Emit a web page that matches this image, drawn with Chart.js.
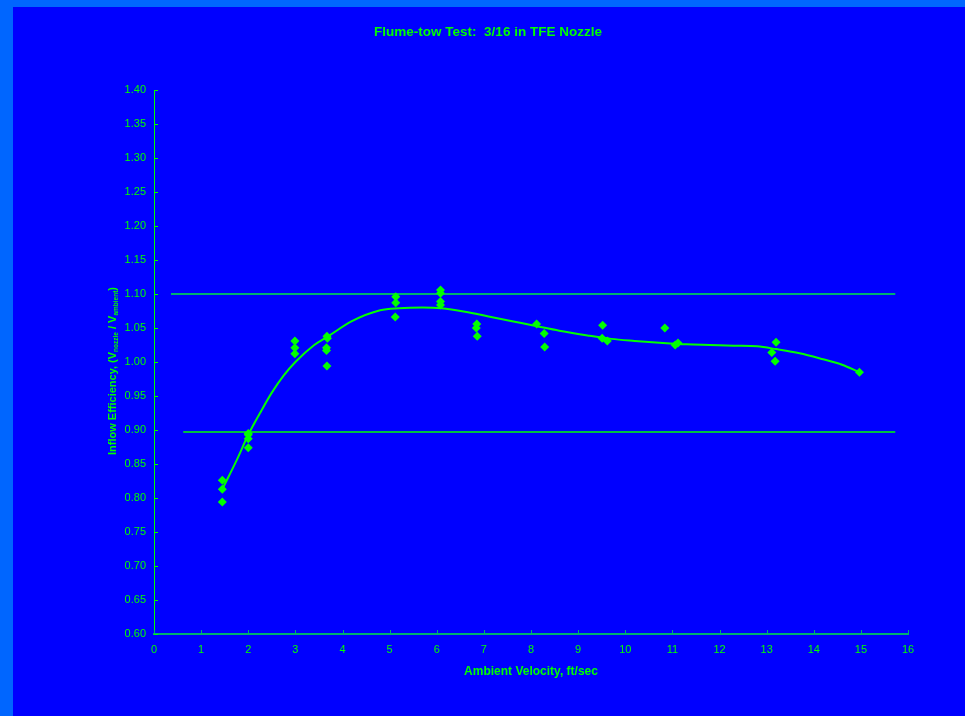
<!DOCTYPE html>
<html>
<head>
<meta charset="utf-8">
<script src="https://cdn.jsdelivr.net/npm/chart.js@4.4.1/dist/chart.umd.min.js"></script>
<style>
  html, body { margin: 0; padding: 0; background: #0066FF; overflow: hidden; }
  #wrap { position: absolute; left: 13px; top: 7px; width: 952px; height: 709px; background: #0000FF; }
  canvas { display: block; }
</style>
</head>
<body>
<div id="wrap"><canvas id="c" width="952" height="709"></canvas></div>
<script>
// Measured inflow efficiency at each tow speed (ft/sec)
const velocity = [
  1.45, 1.45, 1.45,
  2.00, 2.00, 2.00, 2.00,
  2.99, 2.99, 2.99,
  3.67, 3.68, 3.66, 3.66, 3.67,
  5.13, 5.13, 5.12,
  6.08, 6.08, 6.08, 6.08,
  6.85, 6.84, 6.86,
  8.12,
  8.28, 8.29,
  9.52, 9.51,
  9.62,
  10.84,
  11.06, 11.12,
  13.20, 13.11, 13.18,
  14.97
];
const efficiency = [
  0.826, 0.813, 0.794,
  0.895, 0.893, 0.887, 0.874,
  1.031, 1.021, 1.012,
  1.038, 1.035, 1.021, 1.017, 0.994,
  1.096, 1.087, 1.066,
  1.106, 1.101, 1.089, 1.084,
  1.056, 1.050, 1.038,
  1.056,
  1.042, 1.022,
  1.054, 1.035,
  1.031,
  1.050,
  1.025, 1.028,
  1.029, 1.014, 1.001,
  0.985
];

// Trend curve through the data
const trendVelocity = [1.45, 1.75, 2.0, 2.25, 2.5, 2.75, 3.0, 3.4, 3.7, 4.2, 4.8, 5.2, 5.7, 6.1, 6.6, 7.1, 7.6, 8.1, 8.6, 9.2, 9.7, 10.2, 10.8, 11.3, 11.8, 12.3, 12.8, 13.2, 13.7, 14.2, 14.6, 14.97];
const trendEfficiency = [0.813, 0.855, 0.893, 0.925, 0.955, 0.980, 1.000, 1.025, 1.038, 1.060, 1.076, 1.079, 1.080, 1.079, 1.074, 1.067, 1.060, 1.053, 1.046, 1.039, 1.034, 1.031, 1.028, 1.026, 1.025, 1.024, 1.023, 1.019, 1.013, 1.004, 0.996, 0.985];

// Acceptance band limits
const upperLimit = 1.10;
const lowerLimit = 0.897;
const upperLimitSpan = [0.36, 15.73];
const lowerLimitSpan = [0.62, 15.73];

// Axis tick values
const xTicks = [0, 1, 2, 3, 4, 5, 6, 7, 8, 9, 10, 11, 12, 13, 14, 15, 16];
const yTicks = [0.60, 0.65, 0.70, 0.75, 0.80, 0.85, 0.90, 0.95, 1.00, 1.05, 1.10, 1.15, 1.20, 1.25, 1.30, 1.35, 1.40];

const GREEN = '#00FF00';
const FONT = '"Liberation Sans", Arial, sans-serif';

const points = velocity.map((v, i) => ({ x: v, y: efficiency[i] }));
const trend = trendVelocity.map((v, i) => ({ x: v, y: trendEfficiency[i] }));
const upper = upperLimitSpan.map(v => ({ x: v, y: upperLimit }));
const lower = lowerLimitSpan.map(v => ({ x: v, y: lowerLimit }));

// Titles and inward tick marks
const decor = {
  id: 'decor',
  afterDraw(chart) {
    const ctx = chart.ctx;
    const area = chart.chartArea;
    const xs = chart.scales.x, ys = chart.scales.y;
    ctx.save();
    ctx.strokeStyle = GREEN;
    ctx.lineWidth = 1;
    yTicks.forEach(t => {
      const py = Math.round(ys.getPixelForValue(t)) + 0.5;
      ctx.beginPath();
      ctx.moveTo(area.left, py);
      ctx.lineTo(area.left + 4, py);
      ctx.stroke();
    });
    ctx.strokeStyle = '#00B070';
    xTicks.forEach(t => {
      const px = Math.round(xs.getPixelForValue(t)) + 0.5;
      ctx.beginPath();
      ctx.moveTo(px, area.bottom);
      ctx.lineTo(px, area.bottom - 4);
      ctx.stroke();
    });

    ctx.fillStyle = GREEN;
    ctx.textBaseline = 'middle';
    ctx.textAlign = 'center';
    ctx.font = 'bold 13.5px ' + FONT;
    ctx.fillText('Flume-tow Test:  3/16 in TFE Nozzle', 475, 25);
    ctx.font = 'bold 12px ' + FONT;
    ctx.fillText('Ambient Velocity, ft/sec', (area.left + area.right) / 2, 665);

    // vertical title with subscripts
    const parts = [
      { t: 'Inflow Efficiency, (V', sub: false },
      { t: 'nozzle', sub: true },
      { t: ' / V', sub: false },
      { t: 'ambient', sub: true },
      { t: ')', sub: false }
    ];
    const mainFont = 'bold 11px ' + FONT;
    const subFont = 'bold 6.5px ' + FONT;
    let total = 0;
    parts.forEach(p => { ctx.font = p.sub ? subFont : mainFont; p.w = ctx.measureText(p.t).width; total += p.w; });
    ctx.translate(98, 371 - 7);
    ctx.rotate(-Math.PI / 2);
    ctx.textAlign = 'left';
    ctx.textBaseline = 'alphabetic';
    let cx = -total / 2;
    parts.forEach(p => {
      ctx.font = p.sub ? subFont : mainFont;
      ctx.fillText(p.t, cx, p.sub ? 6.5 : 4.5);
      cx += p.w;
    });
    ctx.restore();
  }
};

new Chart(document.getElementById('c'), {
  type: 'scatter',
  data: {
    datasets: [
      { data: upper, showLine: true, borderColor: '#00B070', borderWidth: 2, pointRadius: 0, order: 3 },
      { data: lower, showLine: true, borderColor: GREEN, borderWidth: 1.5, pointRadius: 0, order: 3 },
      { data: trend, showLine: true, borderColor: GREEN, borderWidth: 2, pointRadius: 0, tension: 0.4, cubicInterpolationMode: 'monotone', order: 2 },
      { data: points, showLine: false, pointStyle: 'rectRot', pointRadius: 4.5, backgroundColor: GREEN, borderColor: GREEN, borderWidth: 0, order: 1 }
    ]
  },
  options: {
    responsive: false,
    animation: false,
    devicePixelRatio: 1,
    layout: { padding: { left: 0, right: 57, top: 83, bottom: 0 } },
    plugins: { legend: { display: false }, tooltip: { enabled: false }, title: { display: false } },
    scales: {
      x: {
        type: 'linear', min: 0, max: 16,
        afterFit(s) { s.height = 82; },
        afterBuildTicks(s) { s.ticks = xTicks.map(v => ({ value: v })); },
        grid: { display: false, drawTicks: false },
        border: { display: true, color: '#00B070', width: 2 },
        ticks: { color: GREEN, padding: 9, maxRotation: 0, autoSkip: false, font: { family: FONT, size: 11 }, callback: v => String(v) }
      },
      y: {
        type: 'linear', min: 0.6, max: 1.4,
        afterFit(s) { s.width = 141; },
        afterBuildTicks(s) { s.ticks = yTicks.map(v => ({ value: v })); },
        grid: { display: false, drawTicks: false },
        border: { display: true, color: GREEN, width: 1 },
        ticks: { color: GREEN, padding: 8, autoSkip: false, font: { family: FONT, size: 11 }, callback: v => Number(v).toFixed(2) }
      }
    }
  },
  plugins: [decor]
});
</script>
</body>
</html>
